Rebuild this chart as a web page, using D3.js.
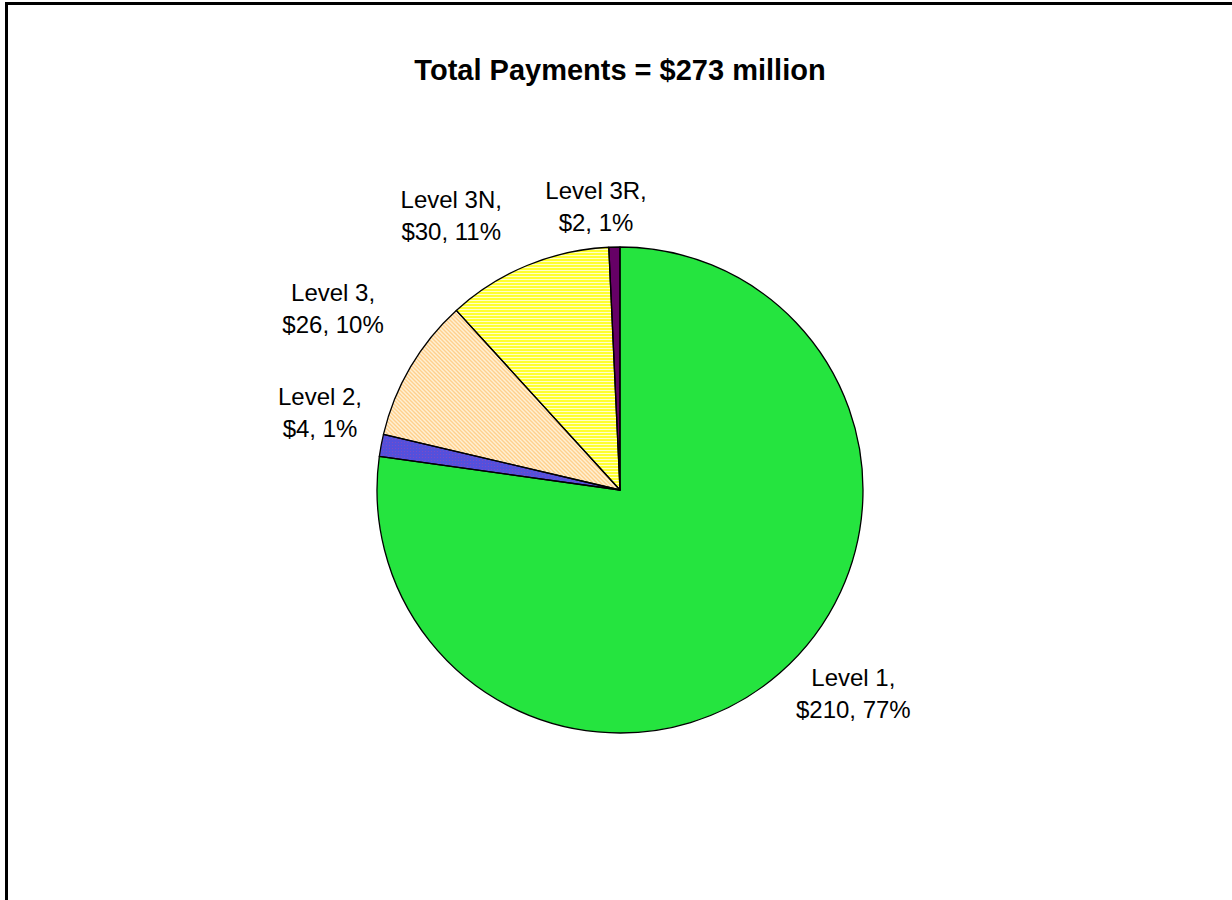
<!DOCTYPE html>
<html>
<head>
<meta charset="utf-8">
<script src="https://cdn.jsdelivr.net/npm/d3@7"></script>
<style>
  html, body { margin: 0; padding: 0; background: #fff; }
  svg { display: block; }
</style>
</head>
<body>
<svg id="chart" width="1232" height="900"></svg>
<script>
// Payment totals by level, $ millions
const categories = ["Level 1", "Level 2", "Level 3", "Level 3N", "Level 3R"];
const amounts = [210, 4, 26, 30, 2];
const percents = ["77%", "1%", "10%", "11%", "1%"];
const title = "Total Payments = $273 million";

const svg = d3.select("#chart");
const W = 1232, H = 900;
const cx = 620, cy = 490, R = 243;

// Texture overlays drawn on top of each slice's base colour
const defs = svg.append("defs");

// Level 2: fine violet dots over blue
const p2 = defs.append("pattern").attr("id", "pat-l2")
  .attr("patternUnits", "userSpaceOnUse").attr("width", 3).attr("height", 3);
p2.append("rect").attr("x", 0).attr("y", 0).attr("width", 1).attr("height", 1).attr("fill", "#7c4cc4");

// Level 3: peach diagonal hatching
const p3 = defs.append("pattern").attr("id", "pat-l3")
  .attr("patternUnits", "userSpaceOnUse").attr("width", 4).attr("height", 4);
p3.append("path").attr("d", "M-1,-1 L5,5 M-1,3 L1,5 M3,-1 L5,1")
  .attr("stroke", "#ffd08c").attr("stroke-width", 1.4);

// Level 3N: yellow horizontal stripes
const p3n = defs.append("pattern").attr("id", "pat-l3n")
  .attr("patternUnits", "userSpaceOnUse").attr("width", 4).attr("height", 3);
p3n.append("rect").attr("y", 2).attr("width", 4).attr("height", 1).attr("fill", "#ffffc8");

const baseFills = ["#25e43f", "#5450dc", "#fff0d4", "#ffff30", "#660066"];
const textures = [null, "url(#pat-l2)", "url(#pat-l3)", "url(#pat-l3n)", null];

// Outer frame
svg.append("rect")
  .attr("x", 6.5).attr("y", 3.5)
  .attr("width", W + 20).attr("height", H + 20)
  .attr("fill", "none").attr("stroke", "#000").attr("stroke-width", 3);

// Title
svg.append("text")
  .attr("x", cx).attr("y", 80)
  .attr("text-anchor", "middle")
  .attr("font-family", "'Liberation Sans', Arial, sans-serif")
  .attr("font-weight", "bold")
  .attr("font-size", 29)
  .text(title);

const rows = categories.map((c, i) => ({
  name: c, value: amounts[i], pct: percents[i], base: baseFills[i], texture: textures[i]
}));

const pie = d3.pie().sort(null).value(d => d.value);
const arcs = pie(rows);
const arc = d3.arc().innerRadius(0).outerRadius(R);

const g = svg.append("g").attr("transform", `translate(${cx},${cy})`);

// Base colour
g.selectAll("path.slice")
  .data(arcs)
  .enter().append("path")
  .attr("class", "slice")
  .attr("d", arc)
  .attr("fill", d => d.data.base);

// Texture
g.selectAll("path.texture")
  .data(arcs.filter(d => d.data.texture))
  .enter().append("path")
  .attr("class", "texture")
  .attr("d", arc)
  .attr("fill", d => d.data.texture);

// Outlines
g.selectAll("path.outline")
  .data(arcs)
  .enter().append("path")
  .attr("class", "outline")
  .attr("d", arc)
  .attr("fill", "none")
  .attr("stroke", "#000")
  .attr("stroke-width", 1.3)
  .attr("stroke-linejoin", "round");

// Label placement: along each slice's mid-angle, pushed out past the rim,
// with a small per-label shift so the two-line blocks clear the edge.
const labelShift = {
  "Level 1":  { dr: 66, da: -8 },
  "Level 2":  { dr: 67, da: 4 },
  "Level 3":  { dr: 97, da: 2 },
  "Level 3N": { dr: 80, da: -9 },
  "Level 3R": { dr: 42, da: -3.5 }
};

const labels = g.selectAll("g.label")
  .data(arcs)
  .enter().append("g")
  .attr("class", "label")
  .attr("transform", d => {
    const s = labelShift[d.data.name];
    const a = (d.startAngle + d.endAngle) / 2 + s.da * Math.PI / 180;
    const r = R + s.dr;
    return `translate(${r * Math.sin(a)},${-r * Math.cos(a)})`;
  });

const lab = labels.append("text")
  .attr("text-anchor", "middle")
  .attr("font-family", "'Liberation Sans', Arial, sans-serif")
  .attr("font-size", 24)
  .attr("fill", "#000");
lab.append("tspan").attr("x", 0).attr("y", -7).text(d => d.data.name + ",");
lab.append("tspan").attr("x", 0).attr("y", 25).text(d => "$" + d.data.value + ", " + d.data.pct);
</script>
</body>
</html>
